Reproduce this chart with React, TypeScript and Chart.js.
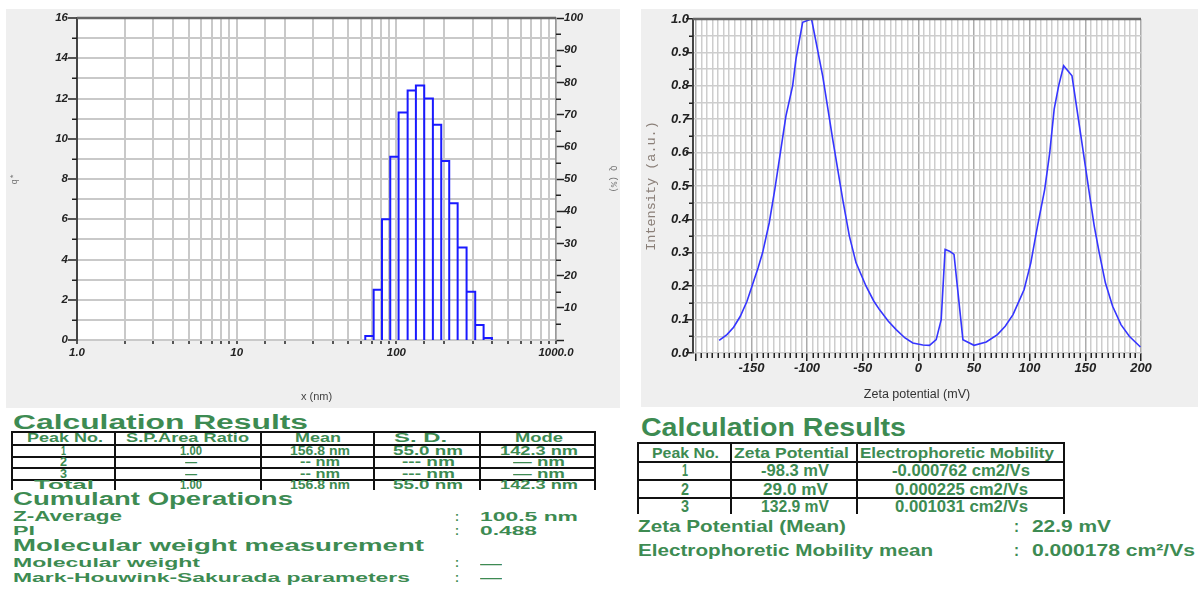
import React, { useEffect, useLayoutEffect, useRef } from "react";
import { Chart, registerables } from "chart.js";
Chart.register(...registerables);

// ---------- Size distribution (left chart) ----------
const sizeBinEdgesNm = [63.9, 72.1, 81.3, 91.6, 103.3, 117.7, 132.6, 149.5, 169.4, 191.1, 214.4, 242.1, 275.4, 311.9, 352.0, 396.9];
const qStarValues = [0.2, 2.5, 6.0, 9.1, 11.3, 12.4, 12.65, 12.0, 10.7, 8.9, 6.8, 4.6, 2.4, 0.75, 0.1];
const sizeXTickLabels: Record<string, string> = { "1": "1.0", "10": "10", "100": "100", "1000": "1000.0" };

// ---------- Zeta potential (right chart) ----------
const zetaPotentialMv = [-179, -172, -166, -160, -154, -149, -144, -140, -134, -129, -124, -119, -113, -110, -104, -96, -86, -77, -68, -62, -56, -47, -40, -35, -27, -20, -12, -5, 4, 10, 16, 20.5, 24, 28, 32, 40, 50, 61, 71, 78, 85, 91, 95, 101, 107, 113.5, 118, 122, 126, 130.5, 138, 146, 153.5, 158, 162.5, 168, 174.5, 182, 189.5, 199.5];
const zetaIntensity = [0.038, 0.055, 0.077, 0.11, 0.155, 0.205, 0.255, 0.30, 0.39, 0.49, 0.60, 0.71, 0.80, 0.88, 0.99, 1.0, 0.83, 0.64, 0.46, 0.35, 0.27, 0.20, 0.155, 0.13, 0.095, 0.07, 0.045, 0.03, 0.024, 0.023, 0.04, 0.10, 0.31, 0.305, 0.295, 0.04, 0.023, 0.033, 0.055, 0.08, 0.115, 0.16, 0.19, 0.27, 0.38, 0.49, 0.60, 0.73, 0.80, 0.86, 0.83, 0.65, 0.48, 0.38, 0.30, 0.21, 0.14, 0.085, 0.05, 0.018];

// ---------- Tables ----------
const sizeTableHeader = ["Peak No.", "S.P.Area Ratio", "Mean", "S. D.", "Mode"];
const sizeTableRows = [
  ["1", "1.00", "156.8 nm", "55.0 nm", "142.3 nm"],
  ["2", "\u2014", "-- nm", "--- nm", "\u2014 nm"],
  ["3", "\u2014", "-- nm", "--- nm", "\u2014 nm"],
  ["Total", "1.00", "156.8 nm", "55.0 nm", "142.3 nm"],
];
const cumulantLabels = ["Z-Average", "PI"];
const cumulantValues = ["100.5 nm", "0.488"];
const mwLabels = ["Molecular weight", "Mark-Houwink-Sakurada parameters"];
const mwValues = ["\u2014", "\u2014"];

const zetaTableHeader = ["Peak No.", "Zeta Potential", "Electrophoretic Mobility"];
const zetaTableRows = [
  ["1", "-98.3 mV", "-0.000762 cm2/Vs"],
  ["2", "29.0 mV", "0.000225 cm2/Vs"],
  ["3", "132.9 mV", "0.001031 cm2/Vs"],
];
const zetaSummaryLabels = ["Zeta Potential (Mean)", "Electrophoretic Mobility mean"];
const zetaSummaryValues = ["22.9 mV", "0.000178 cm\u00b2/Vs"];

const GREEN = "#3d8b52";
const SANS = "'Liberation Sans', Arial, sans-serif";
const MONO = "'Liberation Mono', 'DejaVu Sans Mono', monospace";
const TICK_FONT_L = { family: SANS, size: 11.5, weight: "bold" as const, style: "italic" as const };
const TICK_FONT_R = { family: SANS, size: 13, weight: "bold" as const, style: "italic" as const };

type Spec = { scaleId: string; side: "left" | "right" | "bottom"; len: number; isMajor: (v: number) => boolean };

function makePlugins(specs: Spec[]) {
  return [
    {
      id: "bgFill",
      beforeDraw(chart: any) {
        const { ctx, chartArea: a, width, height } = chart;
        ctx.save();
        ctx.fillStyle = "#efefef";
        ctx.fillRect(0, 0, width, height);
        ctx.fillStyle = "#ffffff";
        ctx.fillRect(a.left, a.top, a.right - a.left, a.bottom - a.top);
        ctx.restore();
      },
    },
    {
      id: "minorAndFrame",
      afterDraw(chart: any) {
        const { ctx, chartArea: a } = chart;
        ctx.save();
        ctx.strokeStyle = "#222";
        ctx.lineWidth = 1.5;
        for (const s of specs) {
          const sc = chart.scales[s.scaleId];
          for (const t of sc.ticks) {
            if (s.isMajor(t.value)) continue;
            const p = Math.round(sc.getPixelForValue(t.value)) + 0.25;
            ctx.beginPath();
            if (s.side === "left") { ctx.moveTo(a.left - s.len, p); ctx.lineTo(a.left, p); }
            else if (s.side === "right") { ctx.moveTo(a.right, p); ctx.lineTo(a.right + s.len, p); }
            else { ctx.moveTo(p, a.bottom); ctx.lineTo(p, a.bottom + s.len); }
            ctx.stroke();
          }
        }
        ctx.strokeStyle = "#666";
        ctx.lineWidth = 2.5;
        ctx.beginPath();
        ctx.moveTo(a.left, a.top);
        ctx.lineTo(a.right, a.top);
        ctx.stroke();
        ctx.restore();
      },
    },
  ];
}

function SizeChart() {
  const ref = useRef<HTMLCanvasElement>(null);
  useEffect(() => {
    const pts: { x: number; y: number | null }[] = [];
    qStarValues.forEach((q, i) => {
      const a = sizeBinEdgesNm[i];
      const b = sizeBinEdgesNm[i + 1];
      pts.push({ x: a, y: 0 }, { x: a, y: q }, { x: b, y: q }, { x: b, y: 0 }, { x: b, y: null });
    });
    const chart = new Chart(ref.current!, {
      type: "line",
      data: {
        datasets: [
          { data: pts as any, borderColor: "#1a1aff", borderWidth: 2, pointRadius: 0, spanGaps: false, tension: 0, fill: false },
        ],
      },
      options: {
        animation: false,
        responsive: false,
        devicePixelRatio: 1,
        events: [],
        layout: { padding: { top: 9, left: 0, right: 0, bottom: 0 } },
        plugins: { legend: { display: false }, tooltip: { enabled: false } },
        scales: {
          x: {
            type: "logarithmic",
            min: 1,
            max: 1000,
            afterFit: (s: any) => { s.height = 68; },
            border: { display: false },
            grid: { color: "#c9c9c9", lineWidth: 2, tickLength: 4, tickColor: "#222", tickWidth: 1.5 },
            ticks: {
              autoSkip: false,
              maxRotation: 0,
              padding: 2,
              color: "#222",
              font: TICK_FONT_L,
              callback: (v: any) => sizeXTickLabels[String(v)] ?? "",
            },
            title: { display: true, text: "x (nm)", color: "#444", font: { family: SANS, size: 11 }, padding: { top: 0, bottom: 4 } },
          },
          y: {
            min: 0,
            max: 16,
            afterFit: (s: any) => { s.width = 71; },
            border: { color: "#444", width: 2 },
            grid: {
              color: "#c9c9c9",
              lineWidth: 2,
              tickLength: 9,
              tickWidth: 1.5,
              tickColor: (c: any) => (c.tick && c.tick.value % 2 === 0 ? "#222" : "rgba(0,0,0,0)"),
            },
            ticks: {
              stepSize: 1,
              autoSkip: false,
              padding: 0,
              color: "#222",
              font: TICK_FONT_L,
              callback: (v: any) => (v % 2 === 0 ? String(v) : ""),
            },
            title: { display: true, text: "q*", color: "#777", font: { family: MONO, size: 9 }, padding: { top: 3, bottom: 0 } },
          },
          y2: {
            axis: "y",
            position: "right",
            min: 0,
            max: 100,
            afterFit: (s: any) => { s.width = 64; },
            border: { color: "#999", width: 1.5 },
            grid: {
              drawOnChartArea: false,
              tickLength: 8,
              tickWidth: 1.5,
              tickColor: (c: any) => (c.tick && c.tick.value % 10 === 0 ? "#222" : "rgba(0,0,0,0)"),
            },
            ticks: {
              stepSize: 5,
              autoSkip: false,
              padding: 0,
              color: "#222",
              font: TICK_FONT_L,
              callback: (v: any) => (v % 10 === 0 && v !== 0 ? String(v) : ""),
            },
            title: { display: true, text: "Q (%)", color: "#777", font: { family: MONO, size: 9 }, padding: { top: 1, bottom: 0 } },
          },
        } as any,
      },
      plugins: makePlugins([
        { scaleId: "y", side: "left", len: 5, isMajor: (v) => v % 2 === 0 },
        { scaleId: "y2", side: "right", len: 5, isMajor: (v) => v % 10 === 0 },
      ]) as any,
    });
    return () => chart.destroy();
  }, []);
  return <canvas ref={ref} width={614} height={399} style={{ position: "absolute", left: 6, top: 9, width: 614, height: 399 }} />;
}

function ZetaChart() {
  const ref = useRef<HTMLCanvasElement>(null);
  useEffect(() => {
    const data = zetaPotentialMv.map((x, i) => ({ x, y: zetaIntensity[i] }));
    const chart = new Chart(ref.current!, {
      type: "line",
      data: {
        datasets: [{ data: data as any, borderColor: "#3535ff", borderWidth: 1.6, pointRadius: 0, tension: 0, fill: false }],
      },
      options: {
        animation: false,
        responsive: false,
        devicePixelRatio: 1,
        events: [],
        layout: { padding: { top: 10, left: 0, right: 57, bottom: 0 } },
        plugins: { legend: { display: false }, tooltip: { enabled: false } },
        scales: {
          x: {
            type: "linear",
            min: -202.5,
            max: 200,
            afterFit: (s: any) => { s.height = 54; },
            afterBuildTicks: (s: any) => {
              const t: { value: number }[] = [];
              for (let v = -200; v <= 200; v += 5) t.push({ value: v });
              s.ticks = t;
            },
            border: { display: false },
            grid: {
              color: (c: any) => (c.tick && Math.round(c.tick.value) % 50 === 0 ? "#ababab" : "#cdcdcd"),
              lineWidth: 1.5,
              tickLength: 8,
              tickWidth: 1.5,
              tickColor: (c: any) => (c.tick && Math.round(c.tick.value) % 50 === 0 ? "#222" : "rgba(0,0,0,0)"),
            },
            ticks: {
              autoSkip: false,
              maxRotation: 0,
              padding: 0,
              color: "#222",
              font: TICK_FONT_R,
              callback: (v: any) => (Math.round(v) % 50 === 0 && v !== -200 ? String(v) : ""),
            },
            title: { display: true, text: "Zeta potential (mV)", color: "#333", font: { family: SANS, size: 12.5 }, padding: { top: 0, bottom: 5 } },
          },
          y: {
            min: 0,
            max: 1,
            afterFit: (s: any) => { s.width = 52; },
            border: { color: "#444", width: 2 },
            grid: {
              color: "#cdcdcd",
              lineWidth: 1.5,
              tickLength: 7,
              tickWidth: 1.5,
              tickColor: (c: any) => (c.tick && Math.round(c.tick.value * 100) % 10 === 0 ? "#222" : "rgba(0,0,0,0)"),
            },
            ticks: {
              stepSize: 0.05,
              autoSkip: false,
              padding: -3,
              color: "#222",
              font: TICK_FONT_R,
              callback: (v: any) => (Math.round(v * 100) % 10 === 0 ? Number(v).toFixed(1) : ""),
            },
            title: { display: true, text: "Intensity (a.u.)", color: "#8a7f78", font: { family: MONO, size: 13.5 }, padding: { top: 2, bottom: 0 } },
          },
        } as any,
      },
      plugins: makePlugins([
        { scaleId: "x", side: "bottom", len: 5, isMajor: (v) => Math.round(v) % 50 === 0 },
        { scaleId: "y", side: "left", len: 4, isMajor: (v) => Math.round(v * 100) % 10 === 0 },
      ]) as any,
    });
    return () => chart.destroy();
  }, []);
  return <canvas ref={ref} width={557} height={398} style={{ position: "absolute", left: 641, top: 9, width: 557, height: 398 }} />;
}

// Text fitted to a target width (horizontal scale), positioned by baseline.
function FitText(props: { text: string; x: number; base: number; size: number; w: number; center?: boolean; color?: string }) {
  const { text, x, base, size, w, center, color } = props;
  const ref = useRef<HTMLSpanElement>(null);
  useLayoutEffect(() => {
    const el = ref.current;
    if (!el) return;
    el.style.transform = "none";
    const nat = el.getBoundingClientRect().width;
    if (nat > 0) el.style.transform = `scaleX(${w / nat})`;
  }, [text, w, size]);
  const top = base - 0.8465 * size;
  const left = center ? x - w / 2 : x;
  return (
    <span
      ref={ref}
      style={{
        position: "absolute",
        left,
        top,
        fontSize: size,
        lineHeight: `${size}px`,
        fontFamily: SANS,
        fontWeight: 700,
        color: color ?? GREEN,
        whiteSpace: "nowrap",
        transformOrigin: "0 0",
      }}
    >
      {text}
    </span>
  );
}

function HLine({ x1, x2, y }: { x1: number; x2: number; y: number }) {
  return <div style={{ position: "absolute", left: x1, top: y - 1, width: x2 - x1, height: 2, background: "#111" }} />;
}
function VLine({ x, y1, y2 }: { x: number; y1: number; y2: number }) {
  return <div style={{ position: "absolute", left: x - 1, top: y1, width: 2, height: y2 - y1, background: "#111" }} />;
}

function SizeResults() {
  const colX = [12, 115, 261, 374, 480, 595];
  const rowY = [432, 445, 457, 468, 480];
  const headCenters = [65, 187, 318, 420, 539];
  const headWidths = [76, 123, 46, 53, 48];
  const cellCenters = [63.5, 191, 320, 428, 539];
  const rowWidths = [
    [5, 22, 60, 70, 78],
    [7, 12, 40, 53, 52],
    [7, 12, 40, 53, 52],
    [60, 22, 60, 70, 78],
  ];
  const rowBase = [455.5, 467, 478.5, 489.5];
  return (
    <>
      <FitText text="Calculation Results" x={13} base={429} size={20} w={295} />
      {rowY.map((y, i) => <HLine key={"h" + i} x1={11} x2={596} y={y} />)}
      {colX.map((x, i) => <VLine key={"v" + i} x={x} y1={431} y2={490} />)}
      {sizeTableHeader.map((t, i) => <FitText key={"sh" + i} text={t} x={headCenters[i]} base={442.5} size={12} w={headWidths[i]} center />)}
      {sizeTableRows.map((r, ri) => r.map((t, ci) => (
        <FitText key={`sr${ri}-${ci}`} text={t} x={cellCenters[ci]} base={rowBase[ri]} size={12.5} w={rowWidths[ri][ci]} center />
      )))}
      <FitText text="Cumulant Operations" x={13} base={505} size={18} w={280} />
      <FitText text={cumulantLabels[0]} x={13} base={521} size={14} w={109} />
      <FitText text={cumulantLabels[1]} x={13} base={535} size={13} w={22} />
      <FitText text=":" x={455} base={521} size={13} w={4} />
      <FitText text=":" x={455} base={535} size={13} w={4} />
      <FitText text={cumulantValues[0]} x={480} base={521.5} size={13.5} w={98} />
      <FitText text={cumulantValues[1]} x={480} base={535} size={13.5} w={57} />
      <FitText text="Molecular weight measurement" x={13} base={551.5} size={17} w={411} />
      <FitText text={mwLabels[0]} x={13} base={567} size={13} w={187} />
      <FitText text={mwLabels[1]} x={13} base={582} size={13} w={397} />
      <FitText text=":" x={455} base={567} size={13} w={4} />
      <FitText text=":" x={455} base={582} size={13} w={4} />
      <FitText text={mwValues[0]} x={480} base={568.5} size={13} w={22} />
      <FitText text={mwValues[1]} x={480} base={582.5} size={13} w={22} />
    </>
  );
}

function ZetaResults() {
  const colX = [638, 731, 857, 1064];
  const rowY = [443, 462, 480, 498];
  const headCenters = [685, 791, 957];
  const headWidths = [67, 115, 194];
  const cellCenters = [684.5, 795, 961];
  const rowWidths = [
    [6, 68, 138],
    [8, 65, 133],
    [8, 68, 133],
  ];
  const rowBase = [477, 495.5, 513];
  return (
    <>
      <FitText text="Calculation Results" x={641} base={436.5} size={25} w={265} />
      {rowY.map((y, i) => <HLine key={"h" + i} x1={637} x2={1065} y={y} />)}
      {colX.map((x, i) => <VLine key={"v" + i} x={x} y1={442} y2={514} />)}
      {zetaTableHeader.map((t, i) => <FitText key={"zh" + i} text={t} x={headCenters[i]} base={458} size={15} w={headWidths[i]} center />)}
      {zetaTableRows.map((r, ri) => r.map((t, ci) => (
        <FitText key={`zr${ri}-${ci}`} text={t} x={cellCenters[ci]} base={rowBase[ri]} size={16} w={rowWidths[ri][ci]} center />
      )))}
      <FitText text={zetaSummaryLabels[0]} x={638} base={532} size={17} w={208} />
      <FitText text={zetaSummaryLabels[1]} x={638} base={556} size={17} w={295} />
      <FitText text=":" x={1014} base={532} size={17} w={5} />
      <FitText text=":" x={1014} base={556} size={17} w={5} />
      <FitText text={zetaSummaryValues[0]} x={1031.5} base={532} size={17} w={79} />
      <FitText text={zetaSummaryValues[1]} x={1031.5} base={556} size={17} w={163} />
    </>
  );
}

export default function App() {
  useEffect(() => {
    document.body.style.margin = "0";
  }, []);
  return (
    <div style={{ position: "fixed", left: 0, top: 0, width: 1198, height: 592, background: "#fff", overflow: "hidden" }}>
      <SizeChart />
      <ZetaChart />
      <SizeResults />
      <ZetaResults />
    </div>
  );
}
